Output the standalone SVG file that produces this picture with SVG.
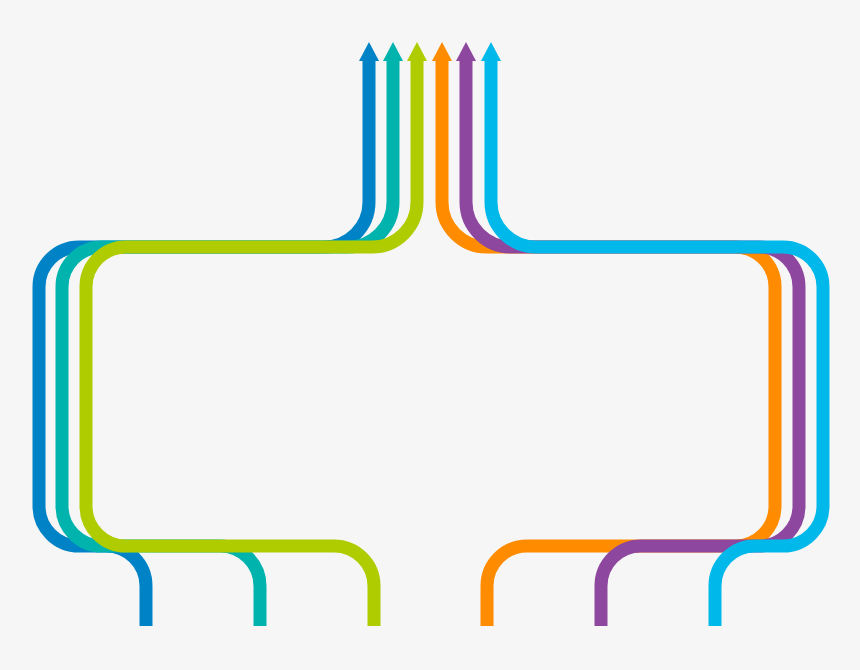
<svg xmlns="http://www.w3.org/2000/svg" width="860" height="670" viewBox="0 0 860 670">
<style>
.ln{fill:none;stroke-width:13;stroke-linecap:butt;stroke-linejoin:round}
.blue{stroke:#0083C6}.teal{stroke:#00B3AD}.green{stroke:#AECC00}
.orange{stroke:#FF8C00}.purple{stroke:#8E479E}.cyan{stroke:#00B9EA}
</style>
<defs>
<marker id="a-blue" markerUnits="userSpaceOnUse" viewBox="0 0 19 20" refX="0" refY="10" markerWidth="19" markerHeight="20" orient="auto"><path d="M0,0 L19,10 L0,20 z" fill="#0083C6"/></marker>
<marker id="a-teal" markerUnits="userSpaceOnUse" viewBox="0 0 19 20" refX="0" refY="10" markerWidth="19" markerHeight="20" orient="auto"><path d="M0,0 L19,10 L0,20 z" fill="#00B3AD"/></marker>
<marker id="a-green" markerUnits="userSpaceOnUse" viewBox="0 0 19 20" refX="0" refY="10" markerWidth="19" markerHeight="20" orient="auto"><path d="M0,0 L19,10 L0,20 z" fill="#AECC00"/></marker>
<marker id="a-orange" markerUnits="userSpaceOnUse" viewBox="0 0 19 20" refX="0" refY="10" markerWidth="19" markerHeight="20" orient="auto"><path d="M0,0 L19,10 L0,20 z" fill="#FF8C00"/></marker>
<marker id="a-purple" markerUnits="userSpaceOnUse" viewBox="0 0 19 20" refX="0" refY="10" markerWidth="19" markerHeight="20" orient="auto"><path d="M0,0 L19,10 L0,20 z" fill="#8E479E"/></marker>
<marker id="a-cyan" markerUnits="userSpaceOnUse" viewBox="0 0 19 20" refX="0" refY="10" markerWidth="19" markerHeight="20" orient="auto"><path d="M0,0 L19,10 L0,20 z" fill="#00B9EA"/></marker>
</defs>
<rect x="0" y="0" width="860" height="670" fill="#F6F6F6"/>
<g id="connectors">
<path id="line-blue" class="ln blue" marker-end="url(#a-blue)" d="M146,626 V586 A40,40 0 0 0 106,546 H79 A40,40 0 0 1 39,506 V287 A40,40 0 0 1 79,247 H324 A45,45 0 0 0 369,202 V61"/>
<path id="line-teal" class="ln teal" marker-end="url(#a-teal)" d="M260,626 V586 A40,40 0 0 0 220,546 H102 A40,40 0 0 1 62,506 V287 A40,40 0 0 1 102,247 H348 A45,45 0 0 0 393,202 V61"/>
<path id="line-green" class="ln green" marker-end="url(#a-green)" d="M374,626 V586 A40,40 0 0 0 334,546 H126 A40,40 0 0 1 86,506 V287 A40,40 0 0 1 126,247 H372 A45,45 0 0 0 417,202 V61"/>
<path id="line-orange" class="ln orange" marker-end="url(#a-orange)" d="M487,626 V586 A40,40 0 0 1 527,546 H735 A40,40 0 0 0 775,506 V287 A40,40 0 0 0 735,247 H487 A45,45 0 0 1 442,202 V61"/>
<path id="line-purple" class="ln purple" marker-end="url(#a-purple)" d="M601,626 V586 A40,40 0 0 1 641,546 H759 A40,40 0 0 0 799,506 V287 A40,40 0 0 0 759,247 H511 A45,45 0 0 1 466,202 V61"/>
<path id="line-cyan" class="ln cyan" marker-end="url(#a-cyan)" d="M715,626 V586 A40,40 0 0 1 755,546 H783 A40,40 0 0 0 823,506 V287 A40,40 0 0 0 783,247 H536 A45,45 0 0 1 491,202 V61"/>
</g>
</svg>
